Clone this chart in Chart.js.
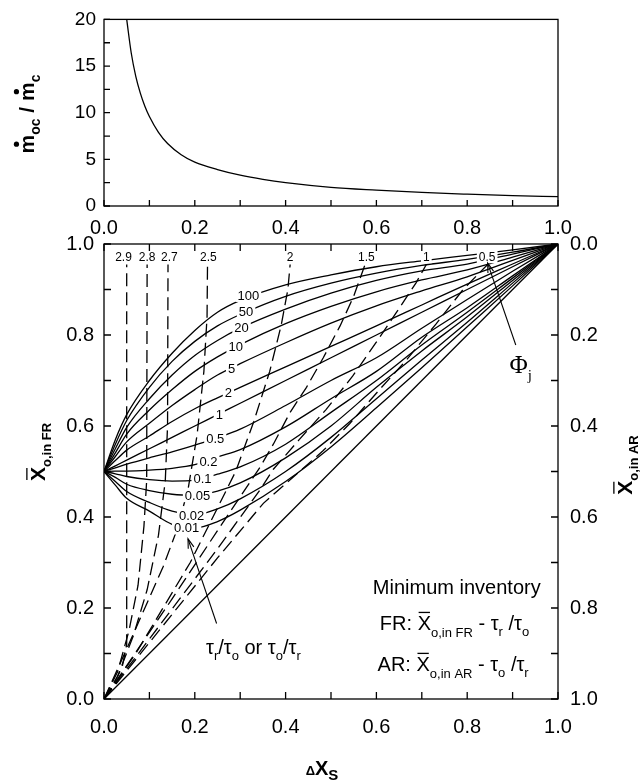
<!DOCTYPE html>
<html>
<head>
<meta charset="utf-8">
<script src="https://cdn.jsdelivr.net/npm/chart.js@4.4.1/dist/chart.umd.min.js"></script>
<style>
  html, body { margin: 0; padding: 0; background: #fff; }
  #wrap { position: relative; width: 643px; height: 781px; }
  canvas { position: absolute; left: 0; top: 0; }
</style>
</head>
<body>
<div id="wrap">
  <canvas id="mainChart" width="643" height="781"></canvas>
  <canvas id="topChart" width="643" height="240"></canvas>
</div>
<script>
const FONT = "'Liberation Sans', Arial, sans-serif";
const SERIF = "'Liberation Serif', 'Times New Roman', serif";

// ---- top panel: mass flow ratio vs dXs ----
const flowX = [0.05, 0.06, 0.07, 0.08, 0.09, 0.1, 0.12, 0.14, 0.17, 0.2, 0.25, 0.3, 0.35, 0.4, 0.5, 0.6, 0.7, 0.8, 0.9, 1.0];
const flowRatio = [20, 16.4, 13.9, 12.1, 10.7, 9.6, 7.9, 6.7, 5.5, 4.7, 3.9, 3.3, 2.85, 2.5, 2.0, 1.7, 1.45, 1.27, 1.12, 1.0];

// ---- main panel: solid curves, one per tau ratio ----
const curveX = [0, 0.025, 0.05, 0.1, 0.15, 0.2, 0.25, 0.3, 0.4, 0.5, 0.6, 0.7, 0.8, 0.9, 1];
const tau100 = [0.5, 0.57, 0.625, 0.70, 0.76, 0.81, 0.85, 0.876, 0.91, 0.932, 0.95, 0.963, 0.975, 0.987, 1];
const tau50  = [0.5, 0.56, 0.612, 0.685, 0.742, 0.786, 0.82, 0.845, 0.885, 0.914, 0.936, 0.953, 0.966, 0.982, 1];
const tau20  = [0.5, 0.55, 0.597, 0.66, 0.712, 0.755, 0.788, 0.815, 0.857, 0.892, 0.92, 0.941, 0.956, 0.978, 1];
const tau10  = [0.5, 0.541, 0.582, 0.635, 0.68, 0.72, 0.752, 0.779, 0.825, 0.863, 0.895, 0.921, 0.943, 0.971, 1];
const tau5   = [0.5, 0.533, 0.565, 0.606, 0.645, 0.68, 0.712, 0.737, 0.783, 0.826, 0.864, 0.897, 0.928, 0.964, 1];
const tau2   = [0.5, 0.524, 0.547, 0.578, 0.61, 0.638, 0.662, 0.685, 0.73, 0.775, 0.82, 0.866, 0.912, 0.956, 1];
const tau1   = [0.5, 0.5125, 0.525, 0.55, 0.575, 0.6, 0.625, 0.65, 0.7, 0.75, 0.8, 0.85, 0.9, 0.95, 1];
const tau05  = [0.5, 0.508, 0.516, 0.53, 0.543, 0.558, 0.574, 0.593, 0.645, 0.70, 0.75, 0.815, 0.878, 0.94, 1];
const tau02  = [0.5, 0.501, 0.501, 0.503, 0.507, 0.515, 0.532, 0.548, 0.598, 0.66, 0.72, 0.795, 0.86, 0.93, 1];
const tau01  = [0.5, 0.495, 0.489, 0.482, 0.479, 0.481, 0.494, 0.51, 0.56, 0.63, 0.70, 0.778, 0.85, 0.925, 1];
const tau005 = [0.5, 0.487, 0.472, 0.458, 0.45, 0.448, 0.457, 0.475, 0.53, 0.60, 0.685, 0.765, 0.84, 0.92, 1];
const tau002 = [0.5, 0.478, 0.456, 0.432, 0.413, 0.405, 0.418, 0.44, 0.5, 0.575, 0.66, 0.745, 0.828, 0.914, 1];
const tau001 = [0.5, 0.47, 0.441, 0.413, 0.384, 0.376, 0.39, 0.415, 0.478, 0.554, 0.64, 0.728, 0.818, 0.908, 1];
const tauLabels = ['100', '50', '20', '10', '5', '2', '1', '0.5', '0.2', '0.1', '0.05', '0.02', '0.01'];
const tauCurves = [tau100, tau50, tau20, tau10, tau5, tau2, tau1, tau05, tau02, tau01, tau005, tau002, tau001];

// diagonal (lower bound)
const diagX = [0, 1];
const diagY = [0, 1];

const phiLabels = ['2.9', '2.8', '2.7', '2.5', '2', '1.5', '1', '0.5'];
const phiX = [
  [0, 0.02, 0.04, 0.05, 0.05],
  [0, 0.03, 0.055, 0.075, 0.088, 0.094, 0.095],
  [0, 0.03, 0.065, 0.095, 0.12, 0.135, 0.14, 0.141],
  [0, 0.05, 0.09, 0.13, 0.16, 0.185, 0.205, 0.22, 0.227, 0.228],
  [0, 0.07, 0.13, 0.19, 0.24, 0.29, 0.33, 0.365, 0.39, 0.405, 0.41],
  [0, 0.15, 0.25, 0.344, 0.373, 0.41, 0.446, 0.483, 0.52, 0.55, 0.575],
  [0, 0.25, 0.344, 0.373, 0.43, 0.489, 0.548, 0.599, 0.643, 0.687, 0.71],
  [0, 0.25, 0.351, 0.417, 0.483, 0.541, 0.607, 0.666, 0.732, 0.791, 0.845]
];
const phiY = [
  [0, 0.03, 0.07, 0.12, 0.955],
  [0, 0.06, 0.15, 0.25, 0.38, 0.48, 0.955],
  [0, 0.05, 0.14, 0.24, 0.36, 0.48, 0.6, 0.955],
  [0, 0.11, 0.2, 0.29, 0.37, 0.46, 0.58, 0.72, 0.84, 0.955],
  [0, 0.1, 0.2, 0.3, 0.4, 0.5, 0.61, 0.72, 0.82, 0.9, 0.955],
  [0, 0.22, 0.37, 0.51, 0.56, 0.63, 0.685, 0.75, 0.82, 0.885, 0.955],
  [0, 0.33, 0.46, 0.505, 0.57, 0.636, 0.71, 0.783, 0.848, 0.914, 0.955],
  [0, 0.31, 0.43, 0.488, 0.546, 0.605, 0.68, 0.745, 0.825, 0.9, 0.955]
];

// where the in-plot labels sit (data coordinates)
const tauLabelPos = [
  [0.318, 0.888], [0.313, 0.851], [0.303, 0.817], [0.29, 0.774], [0.281, 0.727],
  [0.274, 0.673], [0.254, 0.626], [0.245, 0.573], [0.23, 0.522], [0.217, 0.485],
  [0.206, 0.448], [0.193, 0.404], [0.182, 0.377]
];
const phiLabelX = [0.043, 0.095, 0.144, 0.23, 0.41, 0.578, 0.71, 0.844];
const phiLabelY = 0.973;

Chart.defaults.font.family = FONT;
Chart.defaults.color = '#000';

// draws a run of text pieces (for subscripts, overbars, dots)
function rich(ctx, x, y, segs, align) {
  let w = 0;
  segs.forEach(s => { ctx.font = s.font; s.w = ctx.measureText(s.t).width; w += s.w; });
  let cx = align === 'left' ? x : x - w / 2;
  segs.forEach(s => {
    ctx.font = s.font;
    ctx.textAlign = 'left';
    ctx.fillText(s.t, cx, y + (s.dy || 0));
    if (s.bar) {
      const by = y + (s.dy || 0) - s.size * 0.72 - 3;
      ctx.beginPath(); ctx.lineWidth = 1.3;
      ctx.moveTo(cx + 1, by); ctx.lineTo(cx + s.w - 1, by); ctx.stroke();
    }
    if (s.dot) {
      ctx.beginPath();
      ctx.arc(cx + s.w / 2, y + (s.dy || 0) - s.size * 0.55 - 6, 2.6, 0, Math.PI * 2);
      ctx.fill();
    }
    cx += s.w;
  });
}

function boxLabel(ctx, t, px, py) {
  const w = ctx.measureText(t).width;
  ctx.fillStyle = '#fff';
  ctx.fillRect(px - w / 2 - 2, py - 7, w + 4, 14);
  ctx.fillStyle = '#000';
  ctx.fillText(t, px, py + 1);
}

function arrow(ctx, x0, y0, x1, y1) {
  ctx.beginPath(); ctx.moveTo(x0, y0); ctx.lineTo(x1, y1); ctx.stroke();
  const a = Math.atan2(y1 - y0, x1 - x0), L = 10, W = 0.3;
  ctx.beginPath();
  ctx.moveTo(x1 - L * Math.cos(a - W), y1 - L * Math.sin(a - W));
  ctx.lineTo(x1, y1);
  ctx.lineTo(x1 - L * Math.cos(a + W), y1 - L * Math.sin(a + W));
  ctx.stroke();
}

// box frame plus inward ticks
const frameTicks = {
  id: 'frameTicks',
  afterDraw(chart, args, o) {
    const { ctx, chartArea: a } = chart;
    const xs = chart.scales.x, ys = chart.scales.y;
    ctx.save();
    ctx.strokeStyle = '#000';
    ctx.lineWidth = 1.3;
    ctx.strokeRect(a.left, a.top, a.right - a.left, a.bottom - a.top);
    ctx.beginPath();
    const nx = Math.round((xs.max - xs.min) / o.xStep);
    for (let i = 0; i <= nx; i++) {
      const px = xs.getPixelForValue(xs.min + i * o.xStep);
      if (o.bottom) { ctx.moveTo(px, a.bottom); ctx.lineTo(px, a.bottom - o.len); }
      if (o.top) { ctx.moveTo(px, a.top); ctx.lineTo(px, a.top + o.len); }
    }
    const ny = Math.round((ys.max - ys.min) / o.yStep);
    for (let i = 0; i <= ny; i++) {
      const py = ys.getPixelForValue(ys.min + i * o.yStep);
      if (o.left) { ctx.moveTo(a.left, py); ctx.lineTo(a.left + o.len, py); }
      if (o.right) { ctx.moveTo(a.right, py); ctx.lineTo(a.right - o.len, py); }
    }
    ctx.stroke();
    ctx.restore();
  }
};

// ---------- top chart ----------
const topTitles = {
  id: 'topTitles',
  afterDraw(chart) {
    const ctx = chart.ctx;
    ctx.save();
    ctx.fillStyle = '#000'; ctx.strokeStyle = '#000';
    ctx.translate(34, 114);
    ctx.rotate(-Math.PI / 2);
    rich(ctx, 0, 0, [
      { t: 'm', font: 'bold 21px ' + FONT, size: 21, dot: true },
      { t: 'oc', font: 'bold 14px ' + FONT, dy: 6 },
      { t: ' / ', font: 'bold 21px ' + FONT },
      { t: 'm', font: 'bold 21px ' + FONT, size: 21, dot: true },
      { t: 'c', font: 'bold 14px ' + FONT, dy: 6 }
    ]);
    ctx.restore();
  }
};

new Chart(document.getElementById('topChart'), {
  type: 'line',
  data: {
    datasets: [{
      data: flowX.map((x, i) => ({ x, y: flowRatio[i] })),
      borderColor: '#000', borderWidth: 1.3, pointRadius: 0,
      cubicInterpolationMode: 'monotone', fill: false
    }]
  },
  options: {
    responsive: false, animation: false,
    layout: { padding: { top: 17, right: 85, left: 0, bottom: 0 } },
    plugins: {
      legend: { display: false }, tooltip: { enabled: false },
      frameTicks: { xStep: 0.1, yStep: 2.5, len: 6, bottom: true, left: true }
    },
    scales: {
      x: {
        type: 'linear', min: 0, max: 1,
        grid: { display: false, drawTicks: false }, border: { display: false },
        ticks: { stepSize: 0.2, padding: 10, font: { size: 20 }, maxRotation: 0, callback: v => v.toFixed(1) },
        afterFit: s => { s.height = 34; }
      },
      y: {
        type: 'linear', min: 0, max: 20,
        grid: { display: false, drawTicks: false }, border: { display: false },
        ticks: { stepSize: 5, padding: 8, font: { size: 19 } },
        afterFit: s => { s.width = 104; }
      }
    }
  },
  plugins: [frameTicks, topTitles]
});

// ---------- main chart ----------
const mainDecor = {
  id: 'mainDecor',
  afterDatasetsDraw(chart) {
    const { ctx } = chart;
    const xs = chart.scales.x, ys = chart.scales.y;
    const px = v => xs.getPixelForValue(v), py = v => ys.getPixelForValue(v);
    ctx.save();
    ctx.fillStyle = '#000'; ctx.strokeStyle = '#000';
    ctx.textAlign = 'center'; ctx.textBaseline = 'middle';

    ctx.font = '13px ' + FONT;
    tauLabels.forEach((t, i) => boxLabel(ctx, t, px(tauLabelPos[i][0]), py(tauLabelPos[i][1])));
    ctx.font = '12px ' + FONT;
    phiLabels.forEach((t, i) => boxLabel(ctx, t, px(phiLabelX[i]), py(phiLabelY)));

    ctx.lineWidth = 1.1;
    arrow(ctx, px(0.907), py(0.778), px(0.845), py(0.958));
    arrow(ctx, px(0.248), py(0.166), px(0.185), py(0.352));

    ctx.textBaseline = 'alphabetic';
    rich(ctx, px(0.918), py(0.716), [
      { t: 'Φ', font: '25px ' + SERIF },
      { t: 'j', font: '15px ' + SERIF, dy: 7 }
    ]);
    const sub = '13px ' + FONT, big = '20px ' + FONT;
    rich(ctx, px(0.329), py(0.0996), [
      { t: 'τ', font: big }, { t: 'r', font: sub, dy: 6 },
      { t: '/τ', font: big }, { t: 'o', font: sub, dy: 6 },
      { t: ' or τ', font: big }, { t: 'o', font: sub, dy: 6 },
      { t: '/τ', font: big }, { t: 'r', font: sub, dy: 6 }
    ]);
    ctx.font = big; ctx.textAlign = 'center';
    ctx.fillText('Minimum inventory', px(0.777), py(0.231));
    rich(ctx, px(0.772), py(0.152), [
      { t: 'FR: ', font: big }, { t: 'X', font: big, size: 20, bar: true },
      { t: 'o,in FR', font: sub, dy: 7 }, { t: ' - τ', font: big },
      { t: 'r', font: sub, dy: 6 }, { t: ' /τ', font: big }, { t: 'o', font: sub, dy: 6 }
    ]);
    rich(ctx, px(0.769), py(0.062), [
      { t: 'AR: ', font: big }, { t: 'X', font: big, size: 20, bar: true },
      { t: 'o,in AR', font: sub, dy: 7 }, { t: ' - τ', font: big },
      { t: 'o', font: sub, dy: 6 }, { t: ' /τ', font: big }, { t: 'r', font: sub, dy: 6 }
    ]);
    ctx.restore();
  },
  afterDraw(chart) {
    const ctx = chart.ctx;
    ctx.save();
    ctx.fillStyle = '#000'; ctx.strokeStyle = '#000';
    const xb = 'bold 21px ' + FONT, sb = 'bold 13px ' + FONT;
    // left title
    ctx.save(); ctx.translate(45, 452); ctx.rotate(-Math.PI / 2);
    rich(ctx, 0, 0, [{ t: 'X', font: xb, size: 21, bar: true }, { t: 'o,in FR', font: sb, dy: 6 }]);
    ctx.restore();
    // right title
    ctx.save(); ctx.translate(632, 465); ctx.rotate(-Math.PI / 2);
    rich(ctx, 0, 0, [{ t: 'X', font: xb, size: 21, bar: true }, { t: 'o,in AR', font: sb, dy: 6 }]);
    ctx.restore();
    // bottom title
    rich(ctx, 322, 775, [
      { t: 'Δ', font: 'bold 13px ' + FONT },
      { t: 'X', font: 'bold 20px ' + FONT },
      { t: 'S', font: 'bold 15px ' + FONT, dy: 5 }
    ]);
    ctx.restore();
  }
};

const mainSets = [];
tauCurves.forEach((ys, k) => {
  mainSets.push({
    label: tauLabels[k],
    data: curveX.map((x, i) => ({ x, y: ys[i] })),
    borderColor: '#000', borderWidth: 1.3, pointRadius: 0,
    cubicInterpolationMode: 'monotone', fill: false
  });
});
mainSets.push({
  label: 'diagonal',
  data: diagX.map((x, i) => ({ x, y: diagY[i] })),
  borderColor: '#000', borderWidth: 1.3, pointRadius: 0, fill: false
});
phiLabels.forEach((t, k) => {
  mainSets.push({
    label: 'phi ' + t,
    data: phiX[k].map((x, i) => ({ x, y: phiY[k][i] })),
    borderColor: '#000', borderWidth: 1.3, borderDash: [13, 6], pointRadius: 0,
    tension: 0, fill: false
  });
});

const decTick = v => v.toFixed(1);
new Chart(document.getElementById('mainChart'), {
  type: 'line',
  data: { datasets: mainSets },
  options: {
    responsive: false, animation: false,
    layout: { padding: { top: 244, left: 0, right: 0, bottom: 0 } },
    plugins: {
      legend: { display: false }, tooltip: { enabled: false },
      frameTicks: { xStep: 0.1, yStep: 0.1, len: 7, bottom: true, top: true, left: true, right: true }
    },
    scales: {
      x: {
        type: 'linear', min: 0, max: 1, position: 'bottom',
        grid: { display: false, drawTicks: false }, border: { display: false },
        ticks: { stepSize: 0.2, padding: 16, font: { size: 20 }, maxRotation: 0, callback: decTick },
        afterFit: s => { s.height = 82; }
      },
      y: {
        type: 'linear', min: 0, max: 1, position: 'left',
        grid: { display: false, drawTicks: false }, border: { display: false },
        ticks: { stepSize: 0.2, padding: 10, font: { size: 20 }, callback: decTick },
        afterFit: s => { s.width = 104; }
      },
      y2: {
        type: 'linear', min: 0, max: 1, position: 'right', reverse: true,
        grid: { display: false, drawTicks: false }, border: { display: false },
        ticks: { stepSize: 0.2, padding: 12, font: { size: 20 }, callback: decTick },
        afterFit: s => { s.width = 85; }
      }
    }
  },
  plugins: [frameTicks, mainDecor]
});
</script>
</body>
</html>
